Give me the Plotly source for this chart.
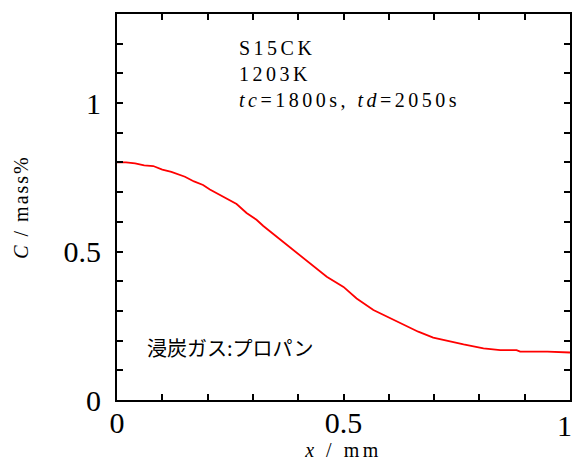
import plotly.graph_objects as go

x_mm = [0.0, 0.02, 0.04, 0.06, 0.08, 0.10, 0.12, 0.15, 0.17, 0.19, 0.205, 0.235, 0.264, 0.286,
        0.308, 0.323, 0.338, 0.367, 0.397, 0.426, 0.463, 0.50, 0.529, 0.566, 0.603, 0.639,
        0.665, 0.698, 0.735, 0.765, 0.809, 0.846, 0.882, 0.89, 0.95, 1.0]
c_mass = [0.800, 0.800, 0.797, 0.790, 0.788, 0.776, 0.768, 0.752, 0.736, 0.724, 0.709, 0.685,
          0.660, 0.630, 0.607, 0.586, 0.568, 0.533, 0.494, 0.460, 0.415, 0.381, 0.342, 0.303,
          0.275, 0.247, 0.230, 0.210, 0.196, 0.187, 0.174, 0.168, 0.168, 0.163, 0.163, 0.160]

tick_vals = [0, 0.5, 1]
tick_text = ["0", "0.5", "1"]
info_lines = ["S15CK", "1203K", "<i>tc</i>=1800s, <i>td</i>=2050s"]
gas_label = "浸炭ガス:プロパン"

serif = "Liberation Serif, Times New Roman, serif"
tick_font = dict(family=serif, size=30, color="black")

def spaced(txt, px):
    return '<span style="letter-spacing:%spx">%s</span>' % (px, txt)

fig = go.Figure()
fig.add_trace(go.Scatter(x=x_mm, y=c_mass, mode="lines",
                         line=dict(color="#ff0000", width=1.8), showlegend=False))

axis_common = dict(
    showgrid=False, zeroline=False, showline=True, linecolor="black", linewidth=2,
    mirror="allticks", ticks="inside", ticklen=6, tickwidth=1.5, tickcolor="black",
    tickfont=tick_font, ticklabeloverflow="allow", automargin=False,
    minor=dict(dtick=0.1, ticks="inside", ticklen=6, tickwidth=1.5, tickcolor="black", showgrid=False),
)

# last x tick label is drawn as an annotation so it stays inside the page edge
x_tick_text = tick_text[:-1] + [""]
fig.update_xaxes(range=[0, 1], tickvals=tick_vals, ticktext=x_tick_text, ticklabelstandoff=-5,
                 title=dict(text=spaced("<i>x</i> / mm", 3.5), font=dict(family=serif, size=20, color="black"), standoff=2),
                 **axis_common)
fig.update_yaxes(range=[0, 1.3], tickvals=tick_vals, ticktext=tick_text, ticklabelstandoff=8,
                 title=dict(text=spaced("<i>C</i> / mass%", 2), font=dict(family=serif, size=20, color="black"), standoff=30),
                 **axis_common)

fig.add_annotation(x=tick_vals[-1], y=0, xref="x", yref="paper", xanchor="right", yanchor="middle",
                   xshift=4, yshift=-25, text=tick_text[-1], showarrow=False, font=tick_font)

fig.add_annotation(x=0.265, y=0.945, xref="paper", yref="paper", xanchor="left", yanchor="top",
                   text="<br>".join(spaced(s, 3.5) for s in info_lines), showarrow=False, align="left",
                   font=dict(family=serif, size=20, color="black"))
fig.add_annotation(x=0.061, y=0.135, xref="paper", yref="paper", xanchor="left", yanchor="middle",
                   text=gas_label, showarrow=False, align="left",
                   font=dict(family="Noto Sans CJK JP, sans-serif", size=20, color="black"))

fig.update_layout(width=575, height=467, margin=dict(l=117, r=5, t=14, b=67),
                  plot_bgcolor="white", paper_bgcolor="white")

fig.write_html("out.html")
